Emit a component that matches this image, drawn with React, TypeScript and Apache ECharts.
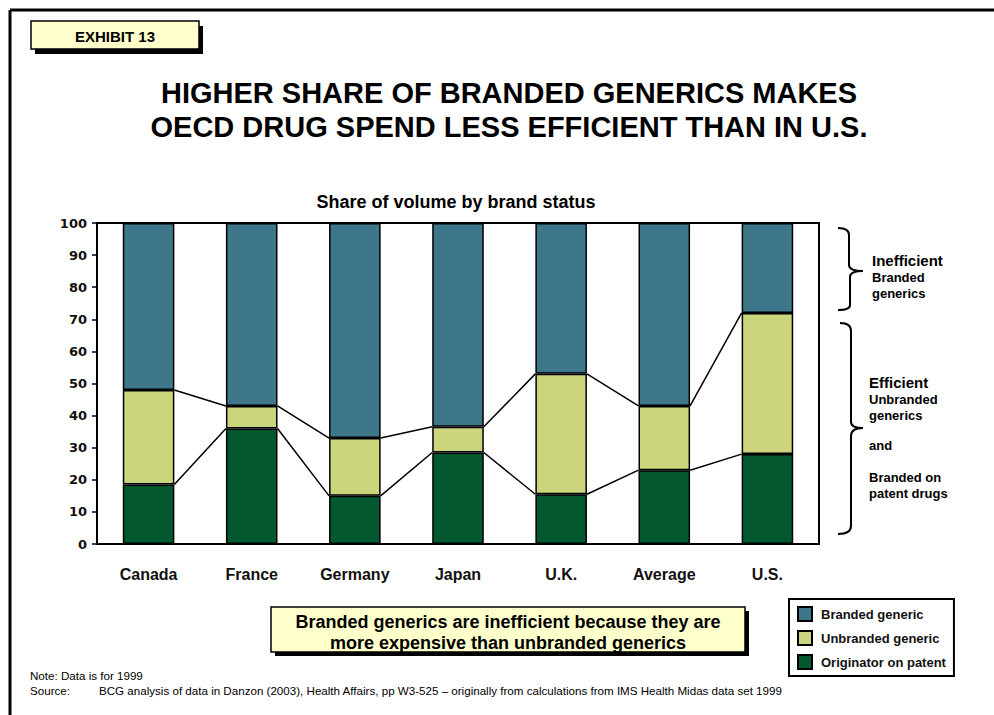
import React, { useEffect, useRef } from "react";
import * as echarts from "echarts";

const categories = ["Canada", "France", "Germany", "Japan", "U.K.", "Average", "U.S."];
const originator = [18.5, 36, 15, 28.5, 15.5, 23, 28];
const unbranded = [29.5, 7, 18, 8, 37.5, 20, 44];
const branded = [52, 57, 67, 63.5, 47, 57, 28];
const seriesNames = ["Branded generic", "Unbranded generic", "Originator on patent"];

const titleLines = [
  "HIGHER SHARE OF BRANDED GENERICS MAKES",
  "OECD DRUG SPEND LESS EFFICIENT THAN IN U.S.",
];
const subtitle = "Share of volume by brand status";
const calloutLines = [
  "Branded generics are inefficient because they are",
  "more expensive than unbranded generics",
];
const noteText = "Note: Data is for 1999";
const sourceLabel = "Source:";
const sourceText =
  "BCG analysis of data in Danzon (2003), Health Affairs, pp W3-525 \u2013 originally from calculations from IMS Health Midas data set 1999";

const ARIAL = '"Liberation Sans", Arial, sans-serif';

const topBrace =
  "M838,228 C845,228 849,230 849,235 L849,265 C849,269 853,271 863,271 C853,271 850,273 850,277 L850,305 C850,309 845,310 838,310";
const bottomBrace =
  "M840,323 C847,323 851,325 851,331 L851,422 C851,426 855,428 863,428 C855,428 851,431 851,436 L851,526 C851,531 847,534 838,534";

let registered = false;
function registerShapes() {
  if (registered) return;
  registered = true;
  echarts.graphic.registerShape("braceTop", echarts.graphic.extendPath(topBrace, {}));
  echarts.graphic.registerShape("braceBottom", echarts.graphic.extendPath(bottomBrace, {}));
}

function txt(text: string, x: number, y: number, font: string, align = "left") {
  return {
    type: "text",
    x,
    y,
    silent: true,
    style: {
      text,
      font,
      fill: "#000",
      textAlign: align,
      align,
      textVerticalAlign: "middle",
      verticalAlign: "middle",
    },
  };
}

export default function App() {
  const ref = useRef<HTMLDivElement>(null);

  useEffect(() => {
    if (!ref.current) return;
    registerShapes();
    const chart = echarts.init(ref.current, undefined, { renderer: "svg" });

    const unbrandedTop = originator.map((v, i) => v + unbranded[i]);
    const lineData: number[][] = [];
    for (let i = 0; i < categories.length - 1; i++) {
      lineData.push([i, originator[i], originator[i + 1]]);
      lineData.push([i, unbrandedTop[i], unbrandedTop[i + 1]]);
    }

    const barBase = {
      type: "bar",
      stack: "total",
      barWidth: "50%",
      silent: true,
    };

    const option: any = {
      animation: false,
      backgroundColor: "#fff",
      grid: {
        left: 97,
        top: 223,
        right: 175,
        bottom: 171,
        show: true,
        borderColor: "#000",
        borderWidth: 2,
        backgroundColor: "transparent",
      },
      xAxis: {
        type: "category",
        data: categories,
        axisLine: { show: true, lineStyle: { color: "#000", width: 2 } },
        axisTick: { show: false },
        axisLabel: {
          margin: 22,
          color: "#111",
          fontFamily: ARIAL,
          fontWeight: "bold",
          fontSize: 16,
        },
        splitLine: { show: false },
      },
      yAxis: {
        type: "value",
        min: 0,
        max: 100,
        interval: 10,
        axisLine: { show: true, lineStyle: { color: "#000", width: 2 } },
        axisTick: { show: true, length: 5, lineStyle: { color: "#000", width: 1.5 } },
        axisLabel: {
          margin: 10,
          color: "#111",
          fontFamily: '"DejaVu Sans", sans-serif',
          fontWeight: "bold",
          fontSize: 13,
        },
        splitLine: { show: false },
      },
      legend: {
        orient: "vertical",
        left: 789,
        top: 599,
        data: seriesNames,
        borderColor: "#000",
        borderWidth: 2,
        padding: [7, 8, 6, 8],
        itemWidth: 14,
        itemHeight: 14,
        itemGap: 8,
        icon: "rect",
        selectedMode: false,
        itemStyle: { borderColor: "#000", borderWidth: 2 },
        textStyle: {
          fontFamily: ARIAL,
          fontWeight: "bold",
          fontSize: 13,
          color: "#111",
          padding: [0, 0, 0, 4],
        },
      },
      series: [
        {
          ...barBase,
          name: "Originator on patent",
          data: originator,
          itemStyle: { color: "#03582F", borderColor: "#000", borderWidth: 1.5 },
        },
        {
          ...barBase,
          name: "Unbranded generic",
          data: unbranded,
          itemStyle: { color: "#CCD47C", borderColor: "#000", borderWidth: 1.5 },
        },
        {
          ...barBase,
          name: "Branded generic",
          data: branded,
          itemStyle: { color: "#3E768A", borderColor: "#000", borderWidth: 1.5 },
        },
        {
          type: "custom",
          name: "connectors",
          silent: true,
          data: lineData,
          encode: { x: 0, y: [1, 2] },
          renderItem: (params: any, api: any) => {
            const i = api.value(0);
            const half = api.size([1, 0])[0] * 0.25;
            const p1 = api.coord([i, api.value(1)]);
            const p2 = api.coord([i + 1, api.value(2)]);
            return {
              type: "line",
              shape: { x1: p1[0] + half, y1: p1[1], x2: p2[0] - half, y2: p2[1] },
              style: { stroke: "#000", lineWidth: 1.5 },
            };
          },
        },
      ],
      graphic: {
        elements: [
          { type: "line", silent: true, shape: { x1: 10, y1: 10, x2: 994, y2: 10 }, style: { stroke: "#000", lineWidth: 3 } },
          { type: "line", silent: true, shape: { x1: 10, y1: 10, x2: 10, y2: 715 }, style: { stroke: "#000", lineWidth: 3 } },
          { type: "rect", silent: true, shape: { x: 35, y: 26, width: 168, height: 28 }, style: { fill: "#000" } },
          { type: "rect", silent: true, shape: { x: 31, y: 21, width: 168, height: 28 }, style: { fill: "#FFFFCC", stroke: "#000", lineWidth: 1.5 } },
          txt("EXHIBIT 13", 115, 36, `bold 15px ${ARIAL}`, "center"),
          txt(titleLines[0], 509, 93, `bold 29px ${ARIAL}`, "center"),
          txt(titleLines[1], 509, 127, `bold 29px ${ARIAL}`, "center"),
          txt(subtitle, 456, 202, `bold 18px ${ARIAL}`, "center"),
          { type: "braceTop", silent: true, x: 0, y: 0, style: { fill: "none", stroke: "#000", lineWidth: 2 } },
          { type: "braceBottom", silent: true, x: 0, y: 0, style: { fill: "none", stroke: "#000", lineWidth: 2 } },
          txt("Inefficient", 872, 260, `bold 15px ${ARIAL}`),
          txt("Branded", 872, 277, `bold 13px ${ARIAL}`),
          txt("generics", 872, 293, `bold 13px ${ARIAL}`),
          txt("Efficient", 869, 382, `bold 15px ${ARIAL}`),
          txt("Unbranded", 869, 399, `bold 13px ${ARIAL}`),
          txt("generics", 869, 415, `bold 13px ${ARIAL}`),
          txt("and", 869, 445, `bold 13px ${ARIAL}`),
          txt("Branded on", 869, 477, `bold 13px ${ARIAL}`),
          txt("patent drugs", 869, 493, `bold 13px ${ARIAL}`),
          { type: "rect", silent: true, shape: { x: 275, y: 611, width: 474, height: 45 }, style: { fill: "#000" } },
          { type: "rect", silent: true, shape: { x: 271, y: 607, width: 474, height: 45 }, style: { fill: "#FFFFCC", stroke: "#000", lineWidth: 1.5 } },
          txt(calloutLines[0], 508, 622, `bold 18px ${ARIAL}`, "center"),
          txt(calloutLines[1], 508, 643, `bold 18px ${ARIAL}`, "center"),
          txt(noteText, 30, 675, `11.6px ${ARIAL}`),
          txt(sourceLabel, 30, 690, `11.6px ${ARIAL}`),
          txt(sourceText, 99, 690, `11.6px ${ARIAL}`),
        ],
      },
    };

    chart.setOption(option);
    return () => chart.dispose();
  }, []);

  return (
    <div
      ref={ref}
      style={{ position: "absolute", left: 0, top: 0, width: 994, height: 715, background: "#fff" }}
    />
  );
}
